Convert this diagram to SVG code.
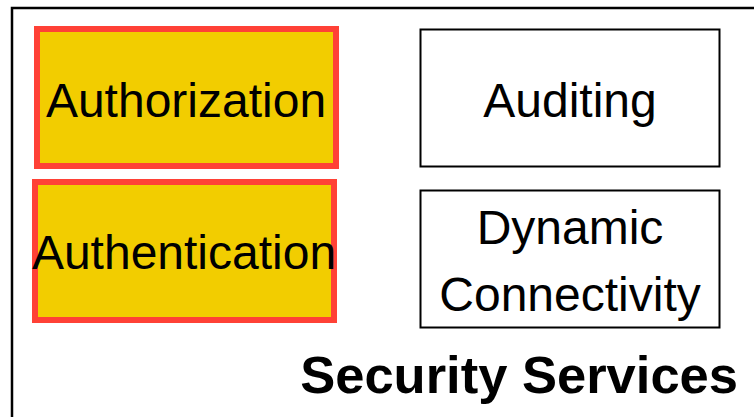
<svg xmlns="http://www.w3.org/2000/svg" width="754" height="417" viewBox="0 0 754 417">
<style>
.t{font-family:"Liberation Sans",Arial,sans-serif;font-size:48px;fill:#000;text-anchor:middle}
.hl{fill:#F2CD00;stroke:#FF4136;stroke-width:6}
.pl{fill:#fff;stroke:#000;stroke-width:2}
.title{font-family:"Liberation Sans",Arial,sans-serif;font-size:52.5px;font-weight:bold;fill:#000;text-anchor:end}
</style>
<rect width="754" height="417" fill="#fff"/>
<g id="frame">
<path d="M12,420 V8 H760" fill="none" stroke="#000" stroke-width="2.5"/>
<text class="title" x="738" y="393">Security Services</text>
</g>
<g id="authorization">
<rect class="hl" x="37" y="29" width="299" height="137"/>
<text class="t" x="186" y="117">Authorization</text>
</g>
<g id="authentication">
<rect class="hl" x="35" y="182" width="299" height="138"/>
<text class="t" x="184" y="269">Authentication</text>
</g>
<g id="auditing">
<rect class="pl" x="420.5" y="29.5" width="299" height="137"/>
<text class="t" x="570" y="117">Auditing</text>
</g>
<g id="dynamic-connectivity">
<rect class="pl" x="420.5" y="190.5" width="299" height="137"/>
<text class="t" x="570" y="244">Dynamic</text>
<text class="t" x="570" y="311">Connectivity</text>
</g>
<g id="connectors"/>
</svg>
